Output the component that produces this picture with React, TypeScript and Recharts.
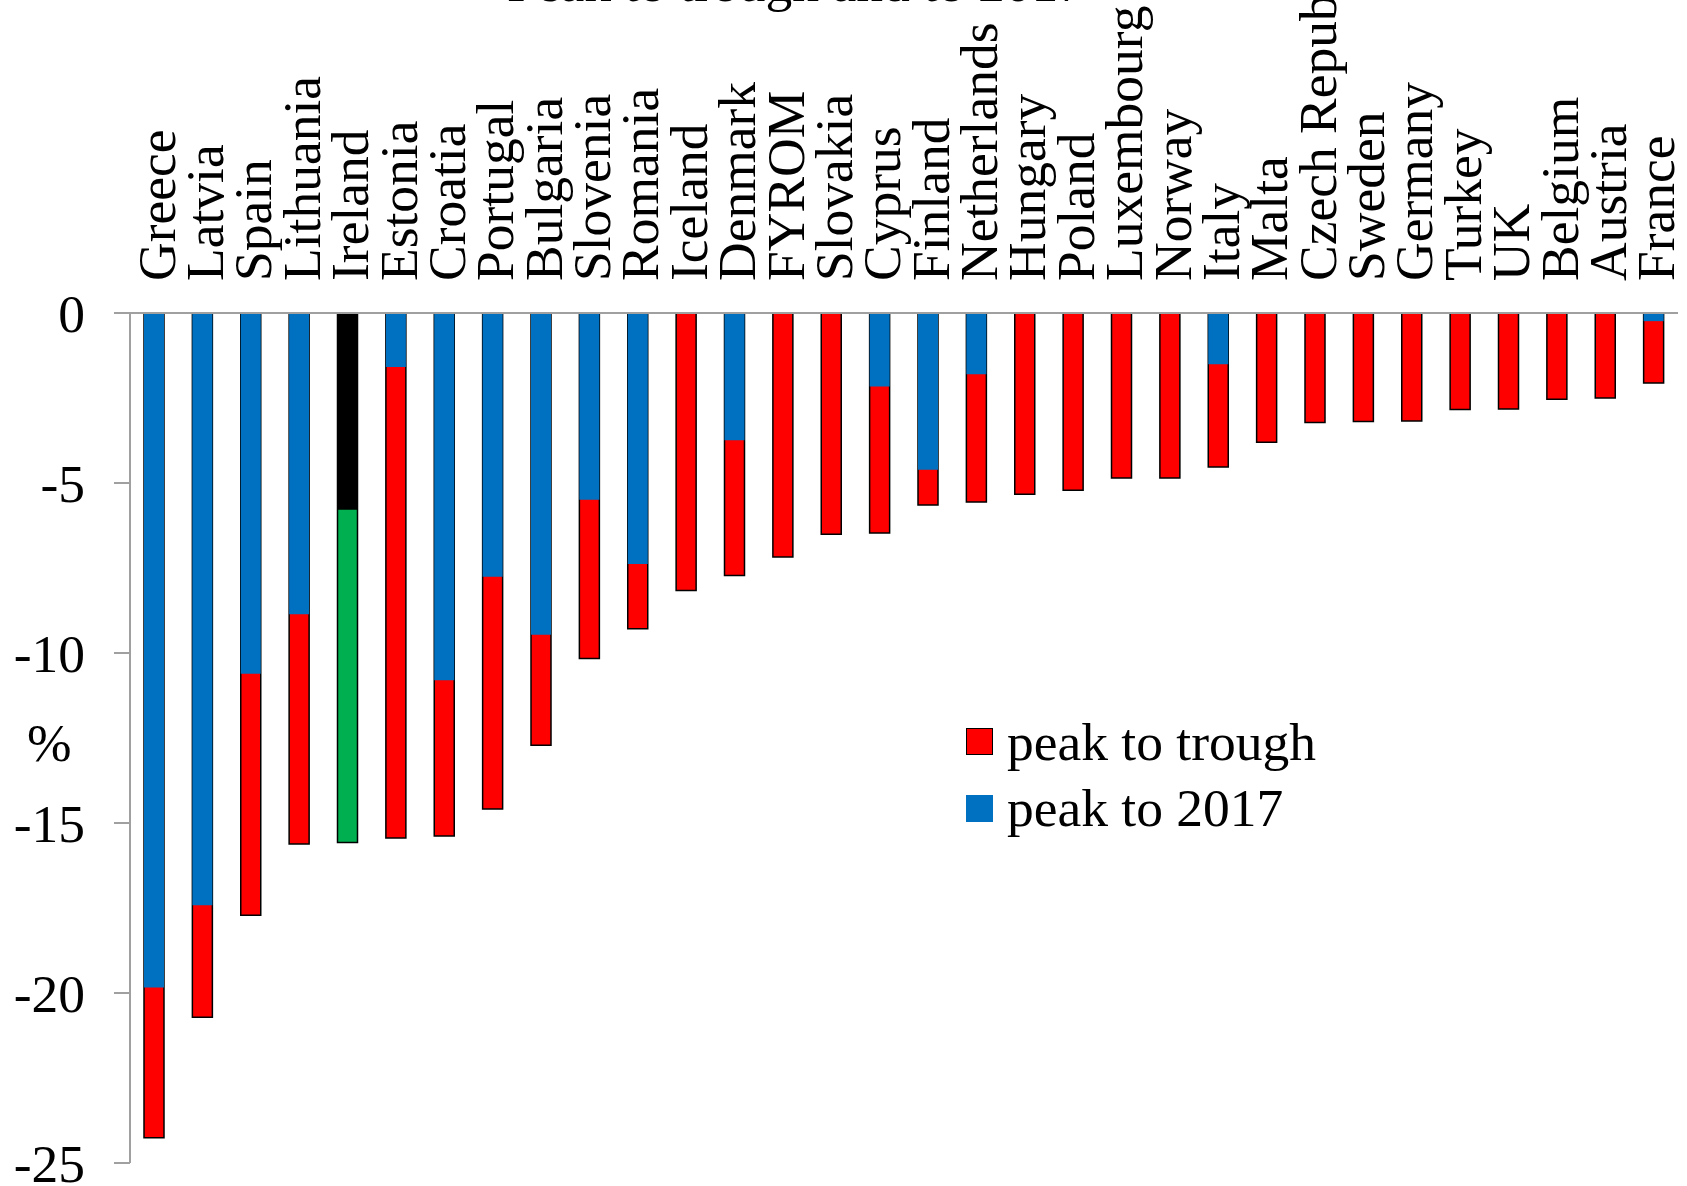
import React from "react";
import { BarChart, Bar, XAxis, YAxis, Cell, Legend } from "recharts";

const COUNTRIES = [
  "Greece", "Latvia", "Spain", "Lithuania", "Ireland", "Estonia", "Croatia", "Portugal",
  "Bulgaria", "Slovenia", "Romania", "Iceland", "Denmark", "FYROM", "Slovakia", "Cyprus",
  "Finland", "Netherlands", "Hungary", "Poland", "Luxembourg", "Norway", "Italy", "Malta",
  "Czech Republic", "Sweden", "Germany", "Turkey", "UK", "Belgium", "Austria", "France",
];

const PEAK_TO_TROUGH = [
  -24.26, -20.71, -17.71, -15.62, -15.57, -15.44, -15.38, -14.59,
  -12.71, -10.16, -9.29, -8.16, -7.72, -7.18, -6.51, -6.47,
  -5.65, -5.56, -5.33, -5.21, -4.85, -4.85, -4.53, -3.80,
  -3.22, -3.19, -3.18, -2.84, -2.82, -2.54, -2.50, -2.06,
];

const PEAK_TO_2017: (number | null)[] = [
  -19.84, -17.42, -10.61, -8.86, -5.79, -1.59, -10.80, -7.76,
  -9.46, -5.49, -7.38, null, -3.74, null, null, -2.16,
  -4.61, -1.80, null, null, null, null, -1.51, null,
  null, null, null, null, null, null, null, -0.24,
];

const Y_TICKS = [0, -5, -10, -15, -20, -25];
const GRID_TICKS = Array.from({ length: COUNTRIES.length + 1 }, (_, i) => i);

const SERIES_NAMES = { trough: "peak to trough", y2017: "peak to 2017" };
const TITLE = "Peak to trough and to 2017";
const HIGHLIGHT = "Ireland";

const FONT = "'Liberation Serif', 'Times New Roman', serif";
const FS = 53.5;
const GREY = "#a0a0a0";
const RED = "#ff0000";
const BLUE = "#0070c0";
const GREEN = "#00b050";

const W = 1687;
const H = 1186;
const PLOT_TOP = 313;
const LABEL_BOTTOM = 281;

const data = COUNTRIES.map((c, i) => ({
  country: c,
  trough: PEAK_TO_TROUGH[i],
  y2017: PEAK_TO_2017[i],
}));

const CatTick = (props: any) => {
  const { x, payload } = props;
  return (
    <text
      transform={`translate(${x + 20.5}, ${LABEL_BOTTOM}) rotate(-90)`}
      textAnchor="start"
      fontSize={FS}
      fontFamily={FONT}
      fill="#000"
    >
      {payload.value}
    </text>
  );
};

const GridTick = (props: any) => {
  const { x } = props;
  return <line x1={x} x2={x} y1={PLOT_TOP} y2={PLOT_TOP + 15} stroke={GREY} strokeWidth={2} />;
};

const LegendContent = () => {
  const items = [
    { name: SERIES_NAMES.trough, color: RED, border: "1.5px solid #000" },
    { name: SERIES_NAMES.y2017, color: BLUE, border: "none" },
  ];
  return (
    <div style={{ fontFamily: FONT, fontSize: FS, color: "#000", lineHeight: "66.7px" }}>
      {items.map((it) => (
        <div key={it.name} style={{ display: "flex", alignItems: "center", height: 66.7, whiteSpace: "nowrap" }}>
          <span
            style={{
              display: "inline-block",
              width: 27,
              height: 27,
              background: it.color,
              border: it.border,
              boxSizing: "border-box",
              marginRight: 14,
            }}
          />
          <span>{it.name}</span>
        </div>
      ))}
    </div>
  );
};

const PercentLabel = (props: any) => {
  const vb = props.viewBox || {};
  return (
    <text
      x={(vb.x ?? 0) + 27}
      y={(vb.y ?? 0) + (vb.height ?? 0) / 2 + 23}
      fontSize={FS}
      fontFamily={FONT}
      fill="#000"
    >
      %
    </text>
  );
};

export default function App() {
  return (
    <div style={{ position: "absolute", left: 0, top: 0, width: W, height: H, background: "#fff" }}>
      <BarChart
        width={W}
        height={H}
        data={data}
        margin={{ top: 0, right: 9, bottom: 23, left: 0 }}
        barGap={-20}
        barSize={20}
      >
        <XAxis
          xAxisId="cat"
          dataKey="country"
          orientation="top"
          height={PLOT_TOP}
          interval={0}
          axisLine={{ stroke: GREY, strokeWidth: 2 }}
          tickLine={false}
          tick={<CatTick />}
        />
        <XAxis
          xAxisId="grid"
          type="number"
          orientation="top"
          domain={[0, COUNTRIES.length]}
          allowDataOverflow
          ticks={GRID_TICKS}
          interval={0}
          height={0}
          axisLine={false}
          tickLine={false}
          tick={<GridTick />}
        />
        <YAxis
          domain={[-25, 0]}
          ticks={Y_TICKS}
          interval={0}
          width={130}
          axisLine={{ stroke: GREY, strokeWidth: 2 }}
          tickLine={{ stroke: GREY, strokeWidth: 2 }}
          tickSize={16}
          tickMargin={29}
          tick={{ fontSize: FS, fill: "#000", fontFamily: FONT }}
          label={<PercentLabel />}
        />
        <Legend
          layout="vertical"
          align="center"
          verticalAlign="middle"
          content={<LegendContent />}
          wrapperStyle={{ left: 966, top: 708.5, width: 440, height: 134 }}
        />
        <Bar
          xAxisId="cat"
          dataKey="trough"
          name={SERIES_NAMES.trough}
          fill={RED}
          stroke="#000"
          strokeWidth={1.5}
          isAnimationActive={false}
        >
          {data.map((d) => (
            <Cell key={d.country} fill={d.country === HIGHLIGHT ? GREEN : RED} />
          ))}
        </Bar>
        <Bar
          xAxisId="cat"
          dataKey="y2017"
          name={SERIES_NAMES.y2017}
          fill={BLUE}
          isAnimationActive={false}
        >
          {data.map((d) => (
            <Cell key={d.country} fill={d.country === HIGHLIGHT ? "#000" : BLUE} />
          ))}
        </Bar>
      </BarChart>
      <svg
        width={W}
        height={60}
        style={{ position: "absolute", left: 0, top: 0, pointerEvents: "none" }}
      >
        <text x={796} y={0.5} textAnchor="middle" fontSize={FS} fontFamily={FONT} fill="#000">
          {TITLE}
        </text>
      </svg>
    </div>
  );
}
